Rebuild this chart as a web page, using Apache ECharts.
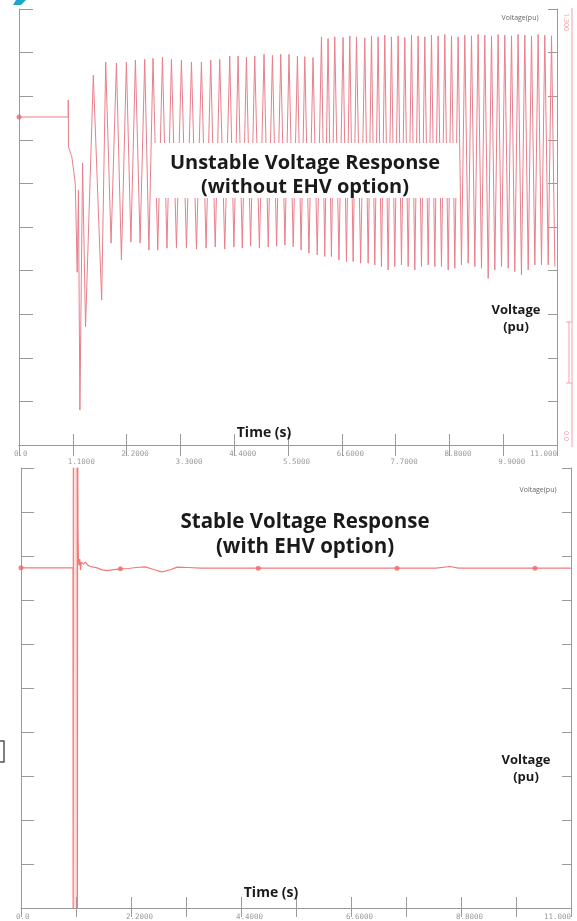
<!DOCTYPE html>
<html><head><meta charset="utf-8">
<script src="https://cdn.jsdelivr.net/npm/echarts@6/dist/echarts.min.js"></script>
<style>html,body{margin:0;padding:0;background:#fff}#c{width:577px;height:921px}</style>
</head><body><div id="c"></div>
<script>
// ---- Top chart (unstable) ----
const topTransT = [0, 1.005, 1.008, 1.012, 1.08, 1.15, 1.19, 1.215, 1.245, 1.30, 1.36, 1.52, 1.69];
const topTransV = [0.978, 0.978, 1.029, 0.889, 0.859, 0.781, 0.515, 0.76, 0.104, 0.841, 0.352, 1.103, 0.432];
const topPeakT = [1.773,1.992,2.196,2.380,2.571,2.740,2.933,3.117,3.321,3.526,3.730,3.920,4.104,4.309,4.479,4.650,4.820,5.010,5.182,5.352,5.521,5.693,5.843,6.012,
  6.184,6.319,6.456,6.626,6.763,6.900,7.070,7.207,7.342,7.479,7.615,7.751,7.888,8.025,8.160,8.297,8.434,8.569,8.706,8.843,8.978,9.115,9.252,9.387,9.524,9.661,9.796,9.933,10.070,10.204,10.342,10.479,10.614,10.751,10.888];
const topPeakV = [1.142,1.139,1.142,1.148,1.150,1.153,1.156,1.150,1.148,1.142,1.142,1.148,1.150,1.160,1.160,1.156,1.160,1.165,1.162,1.165,1.165,1.160,1.158,1.155,
  1.217,1.212,1.217,1.215,1.220,1.217,1.214,1.220,1.217,1.222,1.217,1.220,1.215,1.222,1.220,1.217,1.222,1.220,1.224,1.220,1.217,1.222,1.220,1.224,1.222,1.220,1.224,1.222,1.220,1.224,1.222,1.220,1.224,1.222,1.220];
const topTroughT = [1.882,2.094,2.288,2.476,2.656,2.837,3.025,3.219,3.424,3.628,3.825,4.012,4.207,4.394,4.565,4.735,4.915,5.096,5.267,5.437,5.607,5.768,5.928,6.098,
  6.252,6.388,6.541,6.695,6.832,6.985,7.139,7.275,7.411,7.547,7.683,7.820,7.957,8.093,8.229,8.366,8.502,8.638,8.775,8.911,9.047,9.184,9.320,9.456,9.593,9.729,9.865,10.002,10.137,10.273,10.411,10.547,10.683,10.820,10.956];
const topTroughV = [0.602,0.552,0.605,0.602,0.581,0.581,0.587,0.587,0.587,0.584,0.587,0.590,0.584,0.590,0.587,0.593,0.587,0.590,0.593,0.596,0.591,0.581,0.572,0.567,
  0.562,0.562,0.552,0.547,0.547,0.542,0.542,0.537,0.532,0.522,0.532,0.537,0.532,0.522,0.532,0.537,0.532,0.532,0.522,0.527,0.537,0.542,0.532,0.527,0.497,0.522,0.532,0.527,0.517,0.507,0.522,0.537,0.537,0.537,0.532];
const topMarkT = [0];
const topMarkV = [0.978];

// ---- Bottom chart (stable) ----
const botT = [0, 1.040, 1.043, 1.047, 1.125, 1.128, 1.132, 1.140, 1.148, 1.160, 1.175, 1.190, 1.205, 1.223, 1.250, 1.289, 1.335, 1.389, 1.450, 1.522, 1.620, 1.722, 1.850, 1.988, 2.150, 2.300, 2.487, 2.650, 2.821, 3.000, 3.121, 3.350, 3.586, 4.000, 4.745, 5.500, 6.200, 7.000, 7.520, 8.300, 8.580, 8.750, 9.500, 10.280, 11.000];
const botV = [1.005, 1.005, -0.2, 1.5, 1.5, -0.2, 1.5, 1.12, 1.034, 1.013, 1.031, 0.999, 1.022, 1.025, 1.016, 1.022, 1.013, 1.009, 1.007, 1.005, 0.999, 0.997, 1.000, 1.002, 1.003, 1.006, 1.008, 1.000, 0.993, 1.000, 1.007, 1.006, 1.004, 1.004, 1.004, 1.004, 1.004, 1.004, 1.004, 1.004, 1.009, 1.004, 1.004, 1.004, 1.004];
const botBandT = [1.043, 1.130];
const botMarkT = [0, 1.988, 4.745, 7.52, 10.28];
const botMarkV = [1.005, 1.002, 1.004, 1.004, 1.004];

// axis settings
const xMin = 0, xMax = 11, xStep = 1.1;
const yMin = 0, yMax = 1.3, yStep = 0.13;

const topData = topTransT.map((t, i) => [t, topTransV[i]]);
for (let i = 0; i < topPeakT.length; i++) {
  topData.push([topPeakT[i], topPeakV[i]]);
  topData.push([topTroughT[i], topTroughV[i]]);
}
const botData = botT.map((t, i) => [t, botV[i]]);

const grey = '#9a9a9a';
function fmt(v, i) {
  let s = v === 0 ? '0.0' : (Math.abs(v - 11) < 1e-6 ? '11.000' : v.toFixed(4));
  return i % 2 === 1 ? '\n' + s : s;
}
function bottomX(grid) {
  return {
    type: 'value', gridIndex: grid, position: 'bottom', min: xMin, max: xMax, interval: xStep,
    axisLine: { show: true, lineStyle: { color: grey, width: 1 } },
    axisTick: { show: true, inside: true, length: 11, lineStyle: { color: grey } },
    splitLine: { show: false },
    axisLabel: { show: true, interval: 0, formatter: fmt, fontFamily: 'DejaVu Sans Mono', fontSize: 7.5,
      lineHeight: 8, color: '#9a9a9a', margin: 5, align: 'left', padding: [0, 0, 0, -5],
      alignMaxLabel: 'right' }
  };
}
function topX(grid, line, len) {
  return {
    type: 'value', gridIndex: grid, position: 'top', min: xMin, max: xMax, interval: xStep,
    axisLine: { show: line, lineStyle: { color: grey, width: 1 } },
    axisTick: { show: true, inside: true, length: len, lineStyle: { color: grey } },
    splitLine: { show: false }, axisLabel: { show: false }
  };
}
function yAx(grid, pos, len) {
  return {
    type: 'value', gridIndex: grid, position: pos, min: yMin, max: yMax, interval: yStep,
    axisLine: { show: true, onZero: false, lineStyle: { color: grey, width: 1 } },
    axisTick: { show: true, inside: true, length: len, lineStyle: { color: grey } },
    splitLine: { show: false }, axisLabel: { show: false }
  };
}

const boldFont = 'Open Sans';
function txt(text, x, y, size, weight, color, extra) {
  return Object.assign({
    type: 'text', z: 110,
    style: { text: text, x: x, y: y, fontSize: size, fontWeight: weight, fontFamily: boldFont,
      fill: color, align: 'center', verticalAlign: 'middle', textAlign: 'center', textVerticalAlign: 'middle' }
  }, extra || {});
}

const chart = echarts.init(document.getElementById('c'), null, { renderer: 'canvas' });
chart.setOption({
  animation: false,
  backgroundColor: '#fff',
  grid: [
    { left: 19, top: 9, width: 538, height: 436, outerBoundsMode: 'none', containLabel: false },
    { left: 21, top: 468, width: 550, height: 440, outerBoundsMode: 'none', containLabel: false }
  ],
  xAxis: [bottomX(0), topX(0, true, 11), bottomX(1), topX(1, false, 9)],
  yAxis: [yAx(0, 'left', 14), yAx(0, 'right', 9), yAx(1, 'left', 13), yAx(1, 'right', 9)],
  series: [
    { type: 'line', xAxisIndex: 0, yAxisIndex: 0, data: topData, showSymbol: false, symbol: 'none',
      lineStyle: { color: '#e8808c', width: 1 }, clip: true, z: 3 },
    { type: 'scatter', xAxisIndex: 0, yAxisIndex: 0, data: topMarkT.map((t, i) => [t, topMarkV[i]]),
      symbolSize: 5, itemStyle: { color: '#e06a78' }, z: 4 },
    { type: 'line', xAxisIndex: 2, yAxisIndex: 2, data: botData, showSymbol: false, symbol: 'none',
      lineStyle: { color: '#f27a7a', width: 1.2 }, clip: true, z: 3,
      markArea: { silent: true, itemStyle: { color: 'rgba(245,120,130,0.25)' },
        data: [[{ xAxis: botBandT[0] }, { xAxis: botBandT[1] }]] } },
    { type: 'scatter', xAxisIndex: 2, yAxisIndex: 2, data: botMarkT.map((t, i) => [t, botMarkV[i]]),
      symbolSize: 5, itemStyle: { color: '#ee6868' }, z: 4 }
  ],
  graphic: [
    { type: 'rect', z: 100, shape: { x: 152, y: 143, width: 305, height: 55 }, style: { fill: '#ffffff' } },
    txt('Unstable Voltage Response', 305, 163, 20, 'bold', '#1a1a1a'),
    txt('(without EHV option)', 305, 187, 20, 'bold', '#1a1a1a'),
    txt('Stable Voltage Response', 305, 522, 20.5, 'bold', '#1a1a1a'),
    txt('(with EHV option)', 305, 547, 20.5, 'bold', '#1a1a1a'),
    txt('Voltage', 516, 310, 13, 'bold', '#1a1a1a'),
    txt('(pu)', 516, 327, 13, 'bold', '#1a1a1a'),
    txt('Voltage', 526, 760, 13, 'bold', '#1a1a1a'),
    txt('(pu)', 526, 777, 13, 'bold', '#1a1a1a'),
    txt('Time (s)', 264, 433, 14, 'bold', '#1a1a1a'),
    txt('Time (s)', 271, 893, 14, 'bold', '#1a1a1a'),
    txt('Voltage(pu)', 520, 18, 7, 'normal', '#666'),
    txt('Voltage(pu)', 538, 490, 7, 'normal', '#666'),
    { type: 'line', z: 100, shape: { x1: 572, y1: 8, x2: 572, y2: 447 }, style: { stroke: '#f2a0a8', lineWidth: 1 } },
    { type: 'line', z: 100, shape: { x1: 569, y1: 322, x2: 569, y2: 383 }, style: { stroke: '#f2a0a8', lineWidth: 1 } },
    { type: 'line', z: 100, shape: { x1: 566, y1: 322, x2: 572, y2: 322 }, style: { stroke: '#f2a0a8', lineWidth: 1 } },
    { type: 'line', z: 100, shape: { x1: 566, y1: 383, x2: 572, y2: 383 }, style: { stroke: '#f2a0a8', lineWidth: 1 } },
    txt('1.300', 566, 22, 7, 'normal', '#f2a0a8', { rotation: -Math.PI / 2, originX: 566, originY: 22 }),
    txt('0.0', 566, 436, 7, 'normal', '#f2a0a8', { rotation: -Math.PI / 2, originX: 566, originY: 436 }),
    { type: 'polygon', z: 100, shape: { points: [[16, 0], [26, 0], [21, 5], [13, 5]] }, style: { fill: '#1aa6c4' } },
    { type: 'polyline', z: 100, shape: { points: [[0, 741], [4, 741], [4, 762], [0, 762]] }, style: { stroke: '#555', lineWidth: 1.5, fill: null } }
  ]
});
</script></body></html>
